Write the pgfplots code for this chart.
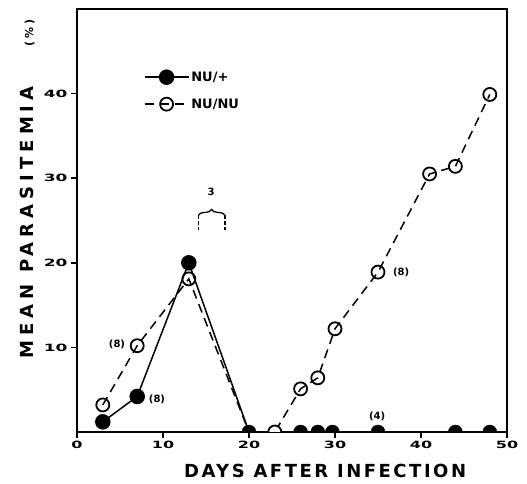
\documentclass[border=0pt]{standalone}
\usepackage{pgfplots}
\pgfplotsset{compat=1.18}
\usepackage{fontspec}
\setmainfont{DejaVu Sans}
\usetikzlibrary{decorations.pathreplacing}
\newfontfamily\xlabfont{DejaVu Sans}[LetterSpace=14]
\newfontfamily\ylabfont{DejaVu Sans}[LetterSpace=28]

% upper half of a disc, for points lying on the x axis
\pgfdeclareplotmark{tophalf*}{%
  \pgfpathmoveto{\pgfqpoint{\pgfplotmarksize}{0pt}}%
  \pgfpatharc{0}{180}{\pgfplotmarksize}%
  \pgfpathclose
  \pgfusepathqfillstroke}
\pgfdeclareplotmark{tophalf}{%
  \pgfpathmoveto{\pgfqpoint{\pgfplotmarksize}{0pt}}%
  \pgfpatharc{0}{180}{\pgfplotmarksize}%
  \pgfusepathqfillstroke}

\begin{document}
\begin{tikzpicture}
\begin{axis}[
    name=ax,
    width=430pt, height=423pt, scale only axis,
    xmin=0, xmax=50, ymin=0, ymax=50,
    xtick={0,10,...,50}, ytick={10,20,30,40},
    tick pos=left, tick align=outside, major tick length=6pt,
    axis line style={line width=1.6pt},
    tick style={line width=1.6pt, black},
    axis on top,
    /pgf/number format/assume math mode=true,
    tick label style={font=\bfseries\fontsize{10}{10}\selectfont},
    xticklabel={\scalebox{1.6}[1]{\pgfmathprintnumber{\tick}}},
    yticklabel={\scalebox{1.7}[1]{\pgfmathprintnumber{\tick}}},
    xlabel={DAYS AFTER INFECTION},
    ylabel={MEAN PARASITEMIA\hspace{40pt}{\fontsize{11}{11}\selectfont(\%)}},
    xlabel style={at={(rel axis cs:0.577,-0.092)}, anchor=center,
        font=\xlabfont\bfseries\fontsize{18}{18}\selectfont},
    ylabel style={at={(rel axis cs:-0.116,0.575)}, anchor=center,
        font=\ylabfont\bfseries\fontsize{18}{18}\selectfont},
    legend style={at={(rel axis cs:0.155,0.857)}, anchor=north west,
        draw=none, fill=none, row sep=12pt, inner sep=0pt,
        font=\bfseries\fontsize{13}{13}\selectfont},
    legend cell align=left,
    legend image code/.code={
        \draw[mark indices={2}]
        plot coordinates {(0pt,0pt) (22pt,0pt) (44pt,0pt)};},
]
% NU/+
\addplot[black, line width=1.5pt, mark=*, mark size=7pt,
    mark indices={1,2,3}, mark options={solid}] coordinates {
    (3,1.2) (7,4.2) (13,20.0) (20,0)
};
\addlegendentry{NU/+}
% NU/NU
\addplot[black, line width=1.5pt, dash pattern=on 9pt off 6pt,
    mark=o, mark size=6.5pt, mark indices={1,2,3,6,7,8,9,10,11,12},
    mark options={solid, fill=white, line width=1.8pt}] coordinates {
    (3,3.2) (7,10.2) (13,18.1) (20,0) (23,0) (26,5.1) (28,6.4)
    (30,12.2) (35,18.9) (41,30.5) (44,31.4) (48,39.9)
};
\addlegendentry{NU/NU}
% points on the axis (zero parasitemia)
\addplot[only marks, black, mark=tophalf*, mark size=7pt, forget plot]
    coordinates {(20,0) (26,0) (28,0) (29.7,0) (35,0) (44,0) (48,0)};
\addplot[only marks, black, mark=tophalf, mark size=6.5pt, forget plot,
    mark options={fill=white, line width=1.8pt}]
    coordinates {(23,0)};

\node[font=\bfseries\fontsize{10}{10}\selectfont] at (axis cs:4.65,10.3) {(8)};
\node[font=\bfseries\fontsize{10}{10}\selectfont] at (axis cs:9.3,3.9) {(8)};
\node[font=\bfseries\fontsize{10}{10}\selectfont] at (axis cs:37.7,18.9) {(8)};
\node[font=\bfseries\fontsize{10}{10}\selectfont] at (axis cs:34.9,1.9) {(4)};
\draw[line width=1.3pt, decorate, decoration={brace, amplitude=6pt}]
    (axis cs:14.1,25.6) -- (axis cs:17.2,25.6);
\draw[line width=1.3pt, dash pattern=on 4pt off 2pt]
    (axis cs:14.1,25.6) -- (axis cs:14.1,23.9);
\draw[line width=1.3pt, dash pattern=on 4pt off 2pt]
    (axis cs:17.2,25.6) -- (axis cs:17.2,23.9);
\node[font=\bfseries\fontsize{10}{10}\selectfont] at (axis cs:15.6,28.4) {3};
\end{axis}
\pgfresetboundingbox
\path[use as bounding box] (ax.south west) ++(-77pt,-52pt) rectangle ++(527pt,484pt);
\end{tikzpicture}
\end{document}
